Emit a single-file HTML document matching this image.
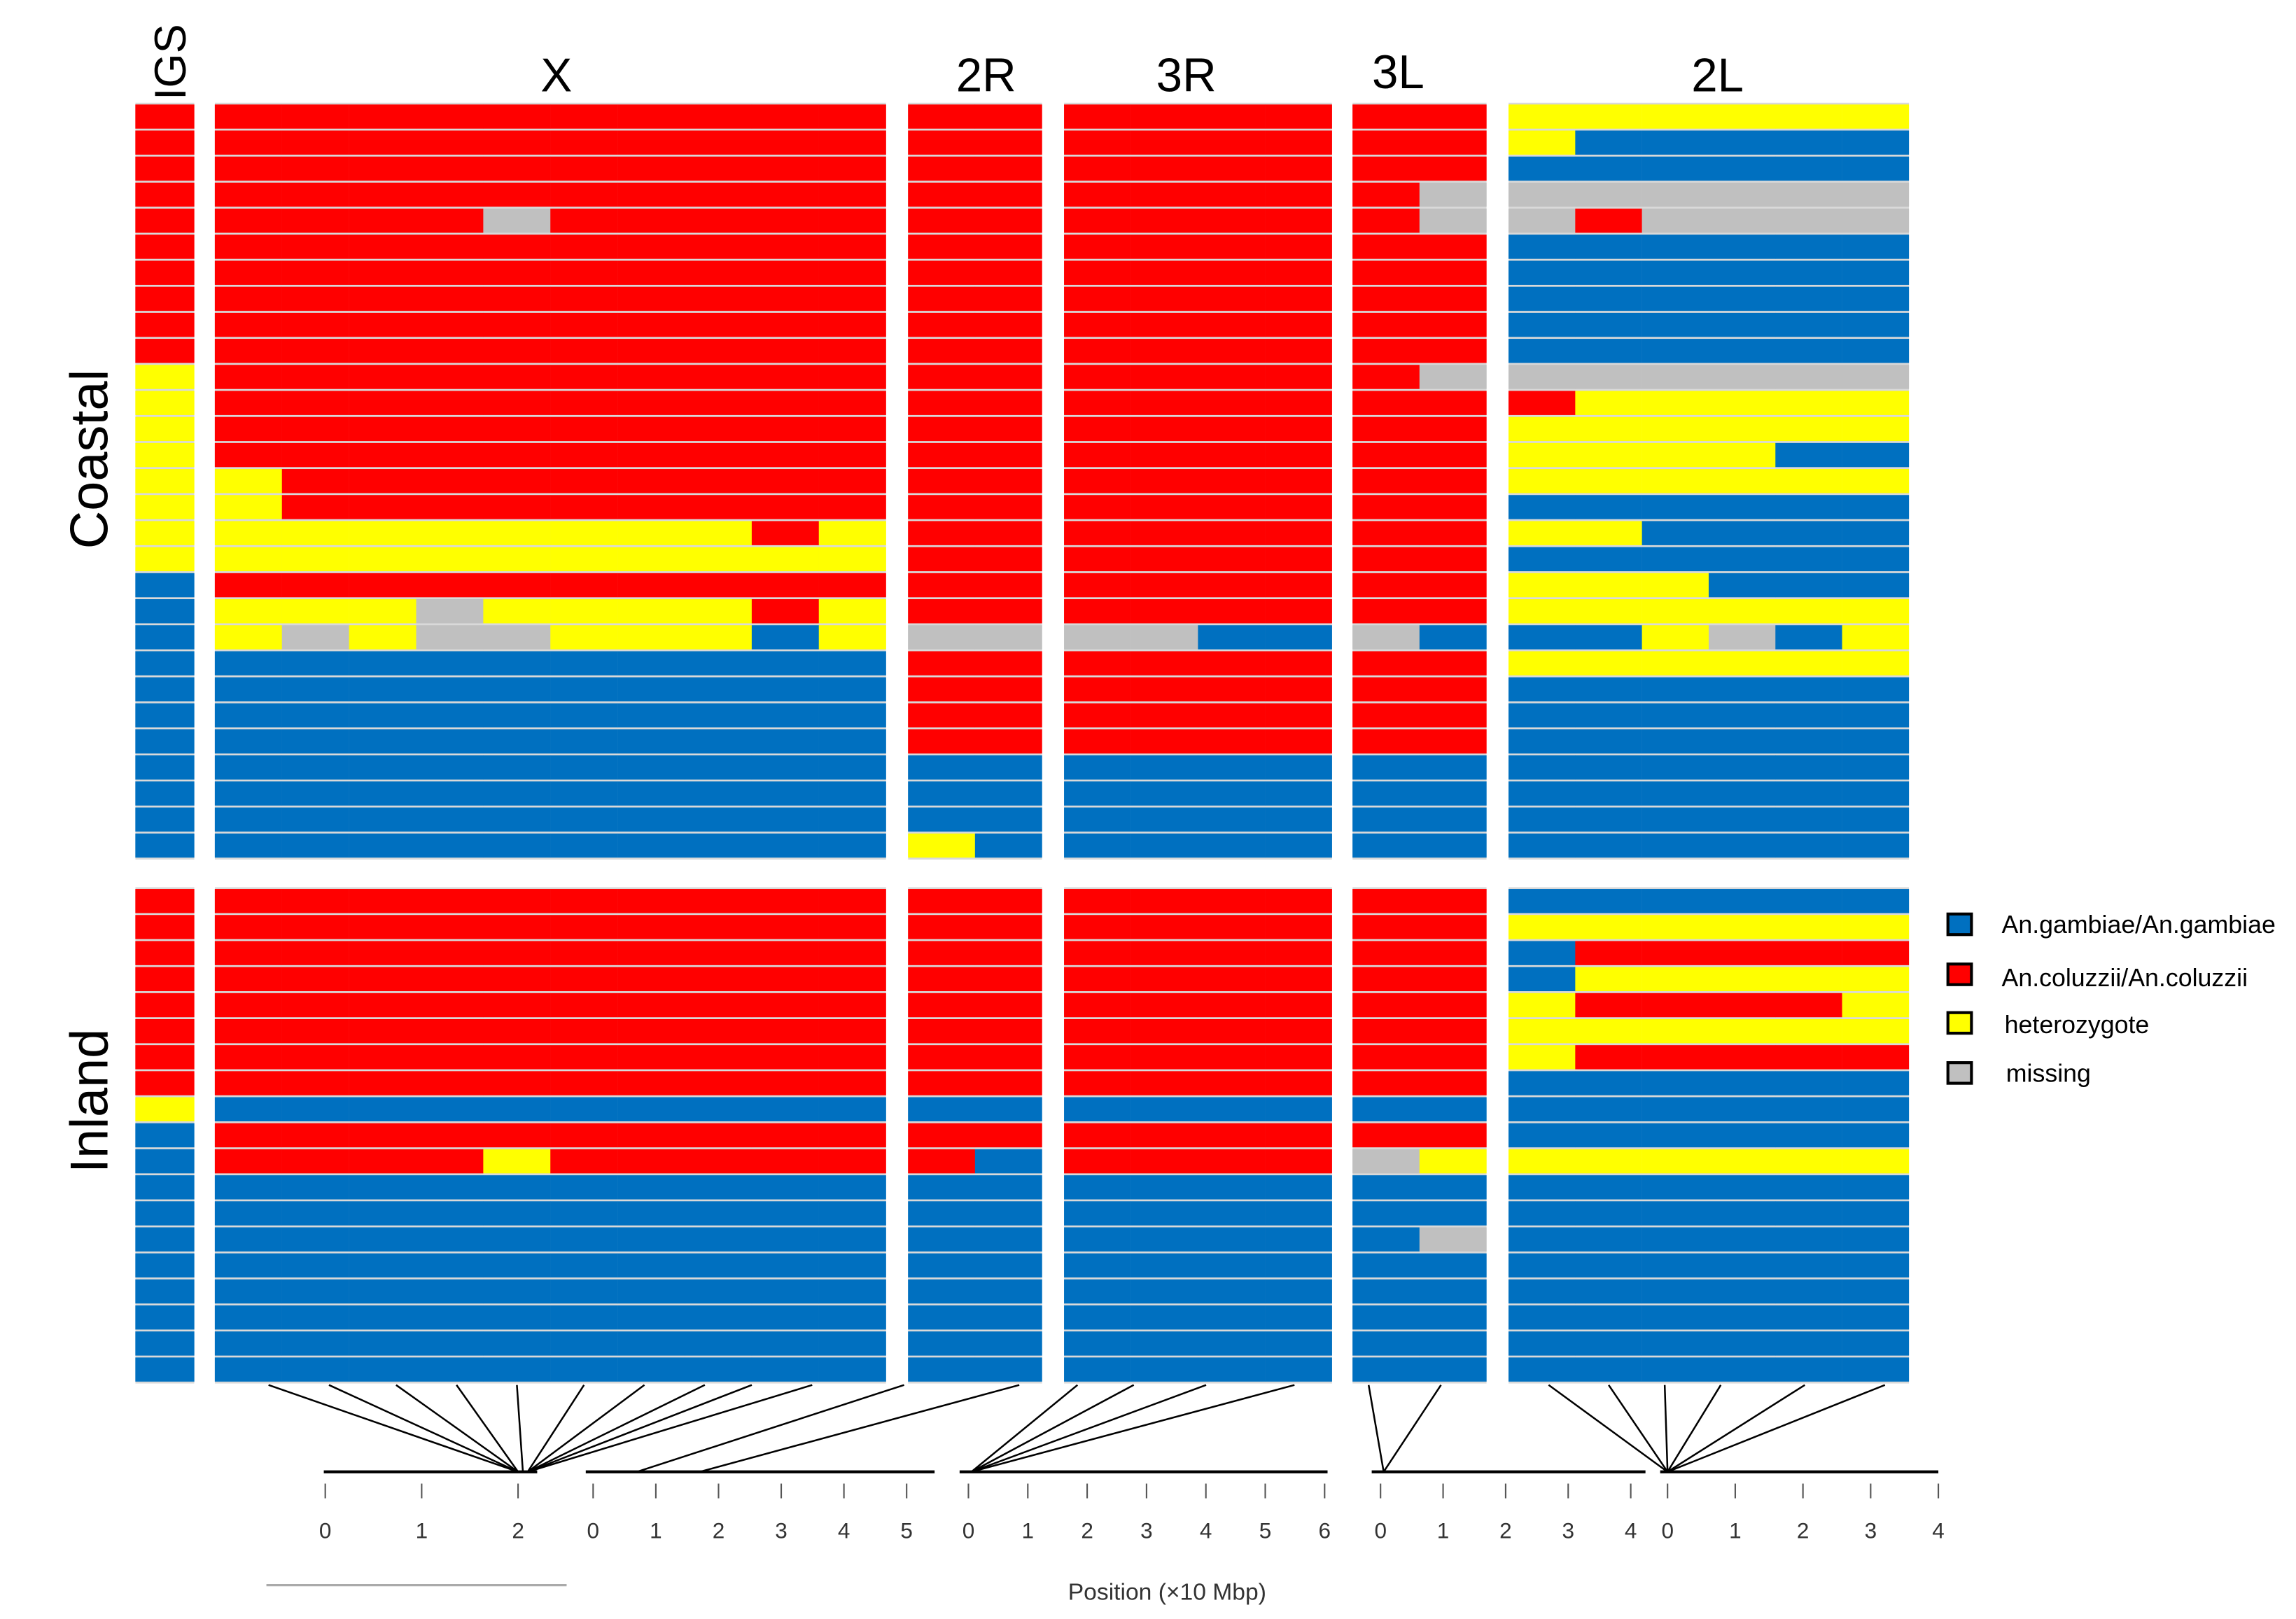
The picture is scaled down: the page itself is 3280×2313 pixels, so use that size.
<!DOCTYPE html>
<html><head><meta charset="utf-8">
<style>
html,body{margin:0;padding:0;background:#fff;}
svg{display:block;}
text{font-family:"Liberation Sans",sans-serif;}
</style></head>
<body>
<svg id="chart" width="3280" height="2313" viewBox="0 0 1560 1100" preserveAspectRatio="none" xmlns="http://www.w3.org/2000/svg">
<g id="panels"></g>
<g id="axes"></g>
<g id="labels">
  <text transform="translate(126,68) rotate(-90)" font-size="30">IGS</text>
  <text x="378" y="62" font-size="32" text-anchor="middle">X</text>
  <text x="670" y="62" font-size="32" text-anchor="middle">2R</text>
  <text x="806" y="62" font-size="32" text-anchor="middle">3R</text>
  <text x="950" y="60" font-size="32" text-anchor="middle">3L</text>
  <text x="1167" y="62" font-size="32" text-anchor="middle">2L</text>
  <text transform="translate(73,312) rotate(-90)" font-size="36" text-anchor="middle">Coastal</text>
  <text transform="translate(73,748) rotate(-90)" font-size="36" text-anchor="middle">Inland</text>
  <text x="793" y="1087" font-size="16" fill="#333" text-anchor="middle">Position (×10 Mbp)</text>
  <line x1="181" y1="1077" x2="385" y2="1077" stroke="#aaa" stroke-width="1.5"/>
</g>
<g id="legend">
  <g><rect x="1323.5" y="621" width="16" height="14" fill="#0070c0" stroke="#000" stroke-width="2"/><text x="1360" y="634" font-size="17">An.gambiae/An.gambiae</text></g>
  <g><rect x="1323.5" y="655" width="16" height="14" fill="#ff0000" stroke="#000" stroke-width="2"/><text x="1360" y="670" font-size="17">An.coluzzii/An.coluzzii</text></g>
  <g><rect x="1323.5" y="688" width="16" height="14" fill="#ffff00" stroke="#000" stroke-width="2"/><text x="1362" y="702" font-size="17">heterozygote</text></g>
  <g><rect x="1323.5" y="722" width="16" height="14" fill="#c0c0c0" stroke="#000" stroke-width="2"/><text x="1363" y="735" font-size="17">missing</text></g>
</g>
</svg>
<script>
// Genotype data: R=coluzzii, B=gambiae, Y=heterozygote, G=missing; one string per sample row
const chromNames = ["IGS","X","2R","3R","3L","2L"];
const coastalIGS = ["R","R","R","R","R","R","R","R","R","R","Y","Y","Y","Y","Y","Y","Y","Y","B","B","B","B","B","B","B","B","B","B","B"];
const coastalX = ["RRRRRRRRRR","RRRRRRRRRR","RRRRRRRRRR","RRRRRRRRRR","RRRRGRRRRR","RRRRRRRRRR","RRRRRRRRRR","RRRRRRRRRR","RRRRRRRRRR","RRRRRRRRRR","RRRRRRRRRR","RRRRRRRRRR","RRRRRRRRRR","RRRRRRRRRR","YRRRRRRRRR","YRRRRRRRRR","YYYYYYYYRY","YYYYYYYYYY","RRRRRRRRRR","YYYGYYYYRY","YGYGGYYYBY","BBBBBBBBBB","BBBBBBBBBB","BBBBBBBBBB","BBBBBBBBBB","BBBBBBBBBB","BBBBBBBBBB","BBBBBBBBBB","BBBBBBBBBB"];
const coastal2R = ["RR","RR","RR","RR","RR","RR","RR","RR","RR","RR","RR","RR","RR","RR","RR","RR","RR","RR","RR","RR","GG","RR","RR","RR","RR","BB","BB","BB","YB"];
const coastal3R = ["RRRR","RRRR","RRRR","RRRR","RRRR","RRRR","RRRR","RRRR","RRRR","RRRR","RRRR","RRRR","RRRR","RRRR","RRRR","RRRR","RRRR","RRRR","RRRR","RRRR","GGBB","RRRR","RRRR","RRRR","RRRR","BBBB","BBBB","BBBB","BBBB"];
const coastal3L = ["RR","RR","RR","RG","RG","RR","RR","RR","RR","RR","RG","RR","RR","RR","RR","RR","RR","RR","RR","RR","GB","RR","RR","RR","RR","BB","BB","BB","BB"];
const coastal2L = ["YYYYYY","YBBBBB","BBBBBB","GGGGGG","GRGGGG","BBBBBB","BBBBBB","BBBBBB","BBBBBB","BBBBBB","GGGGGG","RYYYYY","YYYYYY","YYYYBB","YYYYYY","BBBBBB","YYBBBB","BBBBBB","YYYBBB","YYYYYY","BBYGBY","YYYYYY","BBBBBB","BBBBBB","BBBBBB","BBBBBB","BBBBBB","BBBBBB","BBBBBB"];
const inlandIGS = ["R","R","R","R","R","R","R","R","Y","B","B","B","B","B","B","B","B","B","B"];
const inlandX = ["RRRRRRRRRR","RRRRRRRRRR","RRRRRRRRRR","RRRRRRRRRR","RRRRRRRRRR","RRRRRRRRRR","RRRRRRRRRR","RRRRRRRRRR","BBBBBBBBBB","RRRRRRRRRR","RRRRYRRRRR","BBBBBBBBBB","BBBBBBBBBB","BBBBBBBBBB","BBBBBBBBBB","BBBBBBBBBB","BBBBBBBBBB","BBBBBBBBBB","BBBBBBBBBB"];
const inland2R = ["RR","RR","RR","RR","RR","RR","RR","RR","BB","RR","RB","BB","BB","BB","BB","BB","BB","BB","BB"];
const inland3R = ["RRRR","RRRR","RRRR","RRRR","RRRR","RRRR","RRRR","RRRR","BBBB","RRRR","RRRR","BBBB","BBBB","BBBB","BBBB","BBBB","BBBB","BBBB","BBBB"];
const inland3L = ["RR","RR","RR","RR","RR","RR","RR","RR","BB","RR","GY","BB","BB","BG","BB","BB","BB","BB","BB"];
const inland2L = ["BBBBBB","YYYYYY","BRRRRR","BYYYYY","YRRRRY","YYYYYY","YRRRRR","BBBBBB","BBBBBB","BBBBBB","YYYYYY","BBBBBB","BBBBBB","BBBBBB","BBBBBB","BBBBBB","BBBBBB","BBBBBB","BBBBBB"];
// Axis ticks (x10 Mbp) per chromosome arm
const ticksX = [0,1,2];
const ticks2R = [0,1,2,3,4,5];
const ticks3R = [0,1,2,3,4,5,6];
const ticks3L = [0,1,2,3,4];
const ticks2L = [0,1,2,3,4];
// Marker connector: fraction across panel (top) -> position in x10 Mbp on axis (bottom)
const markerFracX = [0.08,0.17,0.27,0.36,0.45,0.55,0.64,0.73,0.80,0.89];
const markerPosX = [2.0,2.0,2.0,2.0,2.05,2.1,2.1,2.1,2.1,2.1];
const markerFrac2R = [-0.03,0.83];
const markerPos2R = [0.7,1.7];
const markerFrac3R = [0.05,0.26,0.53,0.86];
const markerPos3R = [0.05,0.05,0.05,0.05];
const markerFrac3L = [0.12,0.66];
const markerPos3L = [0.05,0.05];
const markerFrac2L = [0.1,0.25,0.39,0.53,0.74,0.94];
const markerPos2L = [0,0,0,0,0,0];

const COL = {R:"#ff0000",B:"#0070c0",Y:"#ffff00",G:"#c0c0c0"};
const NS = "http://www.w3.org/2000/svg";
const panelX = {IGS:[92,132],X:[146,602],"2R":[617,708],"3R":[723,905],"3L":[919,1010],"2L":[1025,1297]};
const groups = [
  {name:"coastal",top:71,bottom:584,data:{IGS:coastalIGS,X:coastalX,"2R":coastal2R,"3R":coastal3R,"3L":coastal3L,"2L":coastal2L}},
  {name:"inland",top:604,bottom:940,data:{IGS:inlandIGS,X:inlandX,"2R":inland2R,"3R":inland3R,"3L":inland3L,"2L":inland2L}}
];
function mk(tag,attrs,parent){const e=document.createElementNS(NS,tag);for(const k in attrs)e.setAttribute(k,attrs[k]);parent.appendChild(e);return e;}
const pg = document.getElementById("panels");
groups.forEach(g=>{
  chromNames.forEach(c=>{
    const rows = g.data[c];
    const [x0,x1] = panelX[c];
    const pitch = (g.bottom-g.top)/rows.length;
    const pan = mk("g",{},pg);
    
    
    const bg = mk("rect",{x:x0,y:g.top-1.2,width:x1-x0,height:g.bottom-g.top+1.2,fill:"#d9d9d9"},pan);
    
    
    rows.forEach((r,i)=>{
      const n = r.length, w=(x1-x0)/n;
      for(let j=0;j<n;j++){
        const cell = mk("rect",{x:x0+j*w-0.05,y:g.top+i*pitch,width:w+0.1,height:pitch-1.3,fill:COL[r[j]]},pan);
        
        
      }
    });
  });
});
// axes
const ag = document.getElementById("axes");
const axes = [
  {name:"x",x0:220,x1:365,ticks:ticksX,tx0:221,tx1:352,frac:markerFracX,pos:markerPosX,panel:"X"},
  {name:"2r",x0:398,x1:635,ticks:ticks2R,tx0:403,tx1:616,frac:markerFrac2R,pos:markerPos2R,panel:"2R"},
  {name:"3r",x0:652,x1:902,ticks:ticks3R,tx0:658,tx1:900,frac:markerFrac3R,pos:markerPos3R,panel:"3R"},
  {name:"3l",x0:932,x1:1118,ticks:ticks3L,tx0:938,tx1:1108,frac:markerFrac3L,pos:markerPos3L,panel:"3L"},
  {name:"2l",x0:1128,x1:1317,ticks:ticks2L,tx0:1133,tx1:1317,frac:markerFrac2L,pos:markerPos2L,panel:"2L"}
];
axes.forEach(a=>{
  const g = mk("g",{},ag);
  
  
  const scale = v => a.tx0 + (v-a.ticks[0])/(a.ticks[a.ticks.length-1]-a.ticks[0])*(a.tx1-a.tx0);
  const base = mk("line",{x1:a.x0,y1:1000,x2:a.x1,y2:1000,stroke:"#000","stroke-width":2},g);
  
  
  a.ticks.forEach(t=>{
    const tk = mk("line",{x1:scale(t),y1:1008,x2:scale(t),y2:1018,stroke:"#555","stroke-width":1},g);
    
    
    const lb = mk("text",{x:scale(t),y:1045,"font-size":15,"text-anchor":"middle",fill:"#333"},g);
    lb.textContent = t;
    
    
  });
  const [p0,p1] = panelX[a.panel];
  a.frac.forEach((f,i)=>{
    const bx = scale(a.pos[i]);
    const ln = mk("line",{x1:p0+f*(p1-p0),y1:941,x2:bx,y2:1000,stroke:"#000","stroke-width":1.2},g);
    
    
  });
});
</script>
</body></html>
